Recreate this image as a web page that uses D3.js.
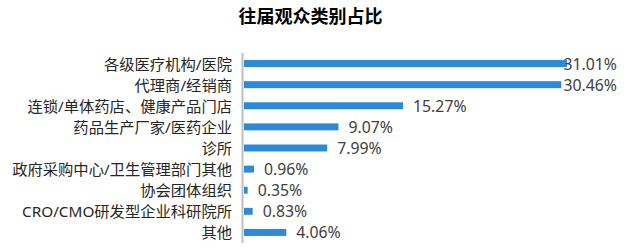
<!DOCTYPE html>
<html><head><meta charset="utf-8">
<script src="https://cdn.jsdelivr.net/npm/d3@7"></script>
<style>
html,body{margin:0;padding:0;background:#fff;}
svg{display:block;}
</style></head>
<body>
<svg id="chart" width="631" height="248"></svg>
<script>
const title = "往届观众类别占比";
const categories = ["各级医疗机构/医院","代理商/经销商","连锁/单体药店、健康产品门店","药品生产厂家/医药企业","诊所","政府采购中心/卫生管理部门其他","协会团体组织","CRO/CMO研发型企业科研院所","其他"];
const values = [31.01,30.46,15.27,9.07,7.99,0.96,0.35,0.83,4.06];
const valueLabels = ["31.01%","30.46%","15.27%","9.07%","7.99%","0.96%","0.35%","0.83%","4.06%"];

const svg = d3.select("#chart");
const font = "'Noto Sans','Noto Sans CJK SC',sans-serif";
const x0 = 244, rightLimit = 617;

svg.append("text").attr("x", 310.5).attr("y", 15).attr("text-anchor","middle")
  .attr("dominant-baseline","central").attr("font-family","'Noto Sans CJK SC',sans-serif")
  .attr("font-size",18).attr("font-weight","bold").attr("fill","#000").text(title);

const x = d3.scaleLinear().domain([0, 31.01]).range([x0, 567]);
const y = d3.scaleBand().domain(categories).range([53, 243]).paddingInner(0.67).paddingOuter(0.335);

svg.selectAll("rect.bar").data(values).enter().append("rect").attr("class","bar")
  .attr("x", x0).attr("y",(d,i)=>y(categories[i])).attr("height", y.bandwidth())
  .attr("width", d=>x(d)-x0).attr("fill","#2b8bd9");

// axis line
svg.append("line").attr("x1",242.5).attr("x2",242.5).attr("y1",53).attr("y2",243)
  .attr("stroke","#bfbfbf").attr("stroke-width",2);

svg.selectAll("text.cat").data(categories).enter().append("text").attr("class","cat")
  .attr("x", 232).attr("y", d=>y(d)+y.bandwidth()/2).attr("text-anchor","end")
  .attr("dominant-baseline","central").attr("font-family",font).attr("font-size",15.3)
  .attr("fill","#262626").text(d=>d);

const vl = svg.selectAll("text.val").data(values).enter().append("text").attr("class","val")
  .attr("y",(d,i)=>y(categories[i])+y.bandwidth()/2).attr("dominant-baseline","central")
  .attr("font-family",font).attr("font-size",15.8).attr("fill","#404040")
  .text((d,i)=>valueLabels[i]);
vl.each(function(d){
  const w = this.getComputedTextLength();
  let px = x(d) + 10;
  if (px + w > rightLimit) px = rightLimit - w;
  d3.select(this).attr("x", px);
});
</script>
</body></html>
